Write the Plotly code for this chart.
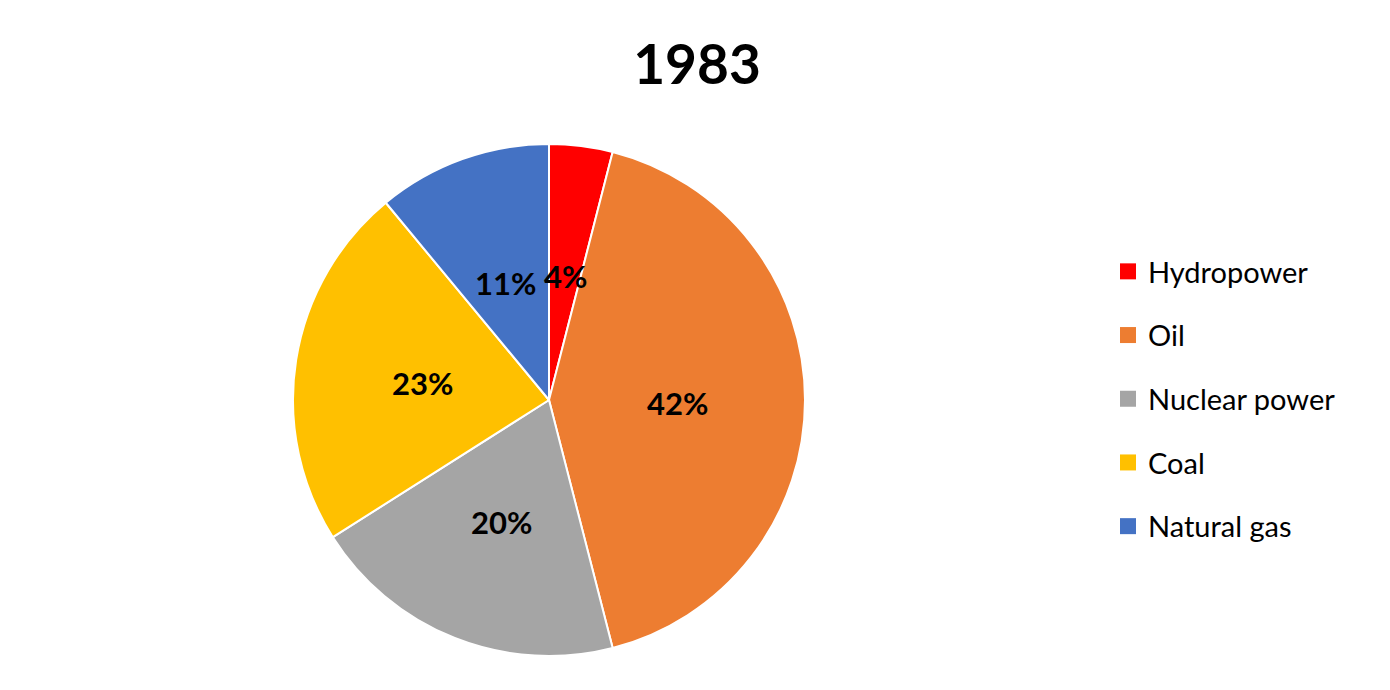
import math
import plotly.graph_objects as go

labels = ["Hydropower", "Oil", "Nuclear power", "Coal", "Natural gas"]
values = [4, 42, 20, 23, 11]
colors = ["#FF0000", "#ED7D31", "#A5A5A5", "#FFC000", "#4472C4"]
title_text = "1983"

FONT = "Lato"
W, H = 1390, 690
OFF = 8  # page body margin
CX, CY, R = 549 - OFF, 400 - OFF, 256  # pie centre / radius in figure px

fig = go.Figure()
fig.add_trace(go.Pie(
    labels=labels, values=values, sort=False, direction="clockwise", rotation=0,
    marker=dict(colors=colors, line=dict(color="white", width=2)),
    textinfo="none", showlegend=False, hoverinfo="label+percent",
    domain=dict(x=[(CX - R) / W, (CX + R) / W], y=[(H - CY - R) / H, (H - CY + R) / H]),
))
for lab, col in zip(labels, colors):
    fig.add_trace(go.Scatter(
        x=[None], y=[None], mode="markers", name=lab, legendgroup=lab,
        marker=dict(symbol="square", size=16, color=col),
    ))

# data labels at half radius, mid-angle of each slice
total = sum(values)
cum = 0
annotations = []
for v in values:
    mid = (cum + v / 2) / total * 2 * math.pi
    cum += v
    dx = 0.5 * R * math.sin(mid)
    dy = 0.5 * R * math.cos(mid)
    annotations.append(dict(
        x=(CX + dx) / W, y=(H - CY + dy - 3) / H, xref="paper", yref="paper",
        text="<b>%d%%</b>" % round(v / total * 100), showarrow=False,
        xanchor="center", yanchor="middle",
        font=dict(family=FONT, size=31, color="black"),
    ))

fig.update_layout(
    width=W, height=H,
    margin=dict(l=0, r=0, t=0, b=0),
    paper_bgcolor="white", plot_bgcolor="white",
    title=dict(text="<b>" + title_text + "</b>", x=(697 - OFF) / W, xanchor="center",
               y=1 - (65 - OFF) / H, yanchor="middle",
               font=dict(family=FONT, size=55, color="black")),
    xaxis=dict(visible=False), yaxis=dict(visible=False),
    annotations=annotations,
    legend=dict(x=1100 / W, xanchor="left", y=1 - (399 - OFF) / H, yanchor="middle",
                font=dict(family=FONT, size=29, color="black"),
                tracegroupgap=23, itemwidth=30),
)
fig.write_html("out.html")
